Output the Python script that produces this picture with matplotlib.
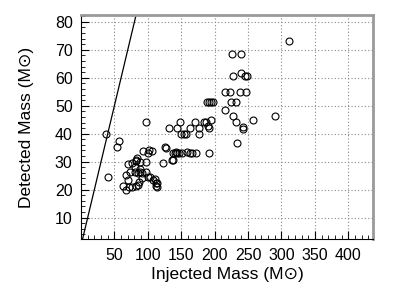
import matplotlib
matplotlib.use("Agg")
import matplotlib.pyplot as plt
from matplotlib.ticker import MultipleLocator

# ==========================================
# Data
# ==========================================

injected = [
    311, 226, 240, 227, 240, 246, 249, 216, 223, 238, 247,
    188, 192, 195, 197, 225, 232, 216, 227, 232, 242, 242, 258, 290, 233,
    97, 148, 170, 184, 187, 195, 132, 143, 163, 176, 190, 192,
    150, 154, 157, 176, 126, 138, 141, 143, 147, 151, 158, 163, 166, 172,
    137, 122, 192,
    37, 41, 57, 54, 93, 100, 107, 71, 77, 83, 88, 97, 82,
    68, 73, 81, 88, 92, 98, 104, 111, 112, 112, 63, 67, 72, 76, 83, 86,
    87, 91, 71, 81, 88, 86, 101, 108, 113, 113, 84, 102, 127, 142, 136,
]

detected = [
    73.2, 68.4, 68.4, 60.7, 61.6, 60.7, 60.7, 55.0, 55.0, 55.0, 55.0,
    51.2, 51.2, 51.2, 51.2, 51.2, 51.2, 48.6, 46.4, 44.2, 42.5, 41.8, 44.9, 46.4, 36.6,
    44.3, 44.3, 44.3, 44.3, 44.3, 44.9, 42.1, 42.1, 42.0, 42.0, 42.8, 42.2,
    40.0, 40.0, 40.0, 40.0, 35.1, 33.0, 33.0, 33.2, 33.0, 33.2, 33.4, 33.0, 33.0, 33.0,
    30.6, 29.6, 33.0,
    39.8, 24.6, 37.5, 35.1, 33.8, 33.1, 33.8, 29.2, 29.4, 30.4, 29.8, 29.8, 30.7,
    25.2, 26.2, 26.4, 26.2, 25.9, 26.2, 24.6, 23.7, 22.5, 21.3, 21.3, 19.9, 21.1, 21.1, 21.3, 21.7,
    22.9, 24.1, 23.5, 28.2, 27.5, 25.9, 24.6, 23.5, 22.3, 21.1, 31.2, 34.2, 35.0, 33.4, 30.7,
]

x_ticks = [50, 100, 150, 200, 250, 300, 350, 400]
y_ticks = [10, 20, 30, 40, 50, 60, 70, 80]

# ==========================================
# Plot
# ==========================================

plt.rcParams["font.family"] = ["Liberation Sans", "DejaVu Sans"]

fig = plt.figure(figsize=(4.07, 2.96), dpi=100)
ax = fig.add_axes([0.199, 0.191, 0.9165 - 0.199, 0.950 - 0.191])

# y = x reference line
ax.plot([0, 100], [0, 100], color="black", linewidth=0.9, zorder=2)

ax.plot(
    injected,
    detected,
    linestyle="none",
    marker="o",
    markersize=5.0,
    markerfacecolor="none",
    markeredgecolor="black",
    markeredgewidth=0.8,
    zorder=3,
)

ax.set_xlim(0, 437)
ax.set_ylim(2.2, 82.5)

ax.set_xticks(x_ticks)
ax.set_yticks(y_ticks)
ax.xaxis.set_minor_locator(MultipleLocator(10))
ax.yaxis.set_minor_locator(MultipleLocator(2))

ax.tick_params(which="both", direction="in", top=False, right=False,
               labelsize=11.5, color="black")
ax.tick_params(which="major", length=6, width=0.8, pad=6)
ax.tick_params(which="minor", length=3, width=0.6)

ax.grid(True, which="major", linestyle=(0, (1, 2)), color="#888888", linewidth=0.8)

for side in ["top", "right"]:
    ax.spines[side].set_color("#999999")
    ax.spines[side].set_linewidth(2.0)
for side in ["left", "bottom"]:
    ax.spines[side].set_color("black")
    ax.spines[side].set_linewidth(0.8)

ax.set_xlabel("Injected Mass (M\u2299)", fontsize=12.5, labelpad=3)
ax.set_ylabel("Detected Mass (M\u2299)", fontsize=12.5, labelpad=15)

plt.savefig("out.png", dpi=100)
plt.close()
